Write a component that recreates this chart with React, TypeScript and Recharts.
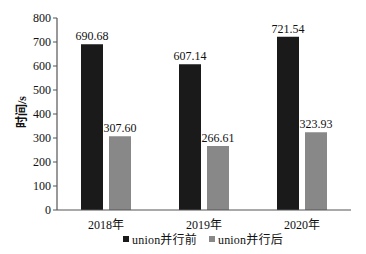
import React from "react";
import { BarChart, Bar, XAxis, YAxis, LabelList } from "recharts";

const years = ["2018年", "2019年", "2020年"];
const beforeUnion = [690.68, 607.14, 721.54];
const afterUnion = [307.6, 266.61, 323.93];
const yTicks = [0, 100, 200, 300, 400, 500, 600, 700, 800];

const FONT = '"Liberation Serif", "Noto Sans CJK SC", serif';

const data = years.map((year, i) => ({
  year,
  before: beforeUnion[i],
  after: afterUnion[i],
}));

const App: React.FC = () => {
  return (
    <div style={{ position: "fixed", left: 0, top: 0, width: 366, height: 254, background: "#fff", fontFamily: FONT }}>
      <BarChart
        width={366}
        height={254}
        data={data}
        margin={{ top: 18, right: 15, bottom: 0, left: 0 }}
        barCategoryGap={24}
        barGap={6}
      >
        <XAxis
          dataKey="year"
          height={44}
          tickLine={false}
          axisLine={{ stroke: "#555", strokeWidth: 1.2 }}
          tick={{ fill: "#111", fontSize: 12, fontFamily: FONT }}
          tickMargin={4}
        />
        <YAxis
          width={57}
          domain={[0, 800]}
          ticks={yTicks}
          interval={0}
          tickSize={4}
          tickLine={{ stroke: "#555" }}
          axisLine={{ stroke: "#555", strokeWidth: 1.2 }}
          tick={{ fill: "#111", fontSize: 12, fontFamily: FONT }}
          label={{
            value: "时间/s",
            angle: -90,
            position: "insideLeft",
            offset: 22,
            dy: -2,
            style: { fill: "#111", fontSize: 12, fontWeight: "bold", fontFamily: FONT, textAnchor: "middle" },
          }}
        />
        <Bar dataKey="before" fill="#1a1a1a" barSize={22} isAnimationActive={false}>
          <LabelList
            dataKey="before"
            position="top"
            offset={4}
            formatter={(v: number) => v.toFixed(2)}
            style={{ fill: "#111", fontSize: 12, fontFamily: FONT }}
          />
        </Bar>
        <Bar dataKey="after" fill="#888888" barSize={22} isAnimationActive={false}>
          <LabelList
            dataKey="after"
            position="top"
            offset={4}
            formatter={(v: number) => v.toFixed(2)}
            style={{ fill: "#111", fontSize: 12, fontFamily: FONT }}
          />
        </Bar>
      </BarChart>
      <div
        style={{
          position: "absolute",
          top: 230,
          left: 123,
          display: "flex",
          alignItems: "center",
          fontSize: 12,
          color: "#111",
          letterSpacing: 0.2,
        }}
      >
        <span style={{ display: "inline-block", width: 6, height: 6, background: "#1a1a1a", marginRight: 3 }} />
        <span style={{ marginRight: 12 }}>union并行前</span>
        <span style={{ display: "inline-block", width: 6, height: 6, background: "#888888", marginRight: 3 }} />
        <span>union并行后</span>
      </div>
    </div>
  );
};

export default App;
